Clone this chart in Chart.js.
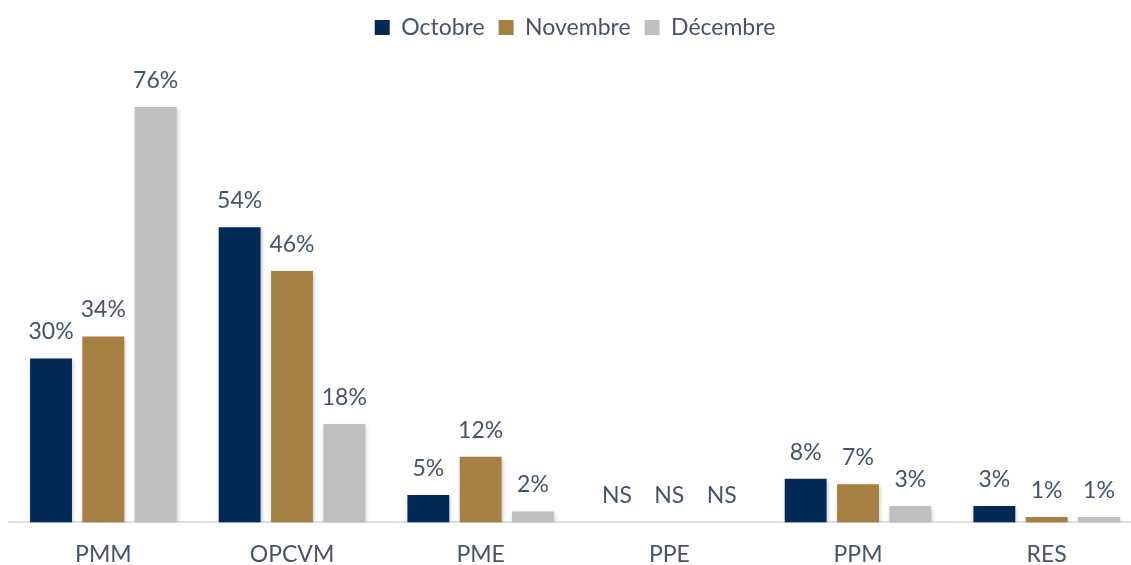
<!DOCTYPE html>
<html>
<head>
<meta charset="utf-8">
<script src="https://cdn.jsdelivr.net/npm/chart.js@4"></script>
<style>
  html, body { margin: 0; padding: 0; background: #fff; overflow: hidden; }
  #wrap { width: 1141px; height: 578px; position: relative; }
</style>
</head>
<body>
<div id="wrap"><canvas id="chart"></canvas></div>
<script>
const categories = ['PMM', 'OPCVM', 'PME', 'PPE', 'PPM', 'RES'];
const octobre = [30, 54, 5, null, 8, 3];
const novembre = [34, 46, 12, null, 7, 1];
const decembre = [76, 18, 2, null, 3, 1];
const seriesNames = ['Octobre', 'Novembre', 'Décembre'];
const seriesColors = ['#022a54', '#a58042', '#bfbfbf'];

const textColor = '#44546a';
const fontFamily = 'Lato, "Noto Sans", sans-serif';

// draws the value labels above each bar (or NS where there is no value)
const valueLabels = {
  id: 'valueLabels',
  afterDatasetsDraw(chart) {
    const ctx = chart.ctx;
    const yScale = chart.scales.y;
    ctx.save();
    ctx.fillStyle = textColor;
    ctx.font = '23px ' + fontFamily;
    ctx.textAlign = 'center';
    ctx.textBaseline = 'bottom';
    chart.data.datasets.forEach((ds, i) => {
      const meta = chart.getDatasetMeta(i);
      meta.data.forEach((bar, j) => {
        const v = ds.data[j];
        const x = bar.x;
        const y = v == null ? yScale.getPixelForValue(0) : bar.y;
        const txt = v == null ? 'NS' : v + '%';
        ctx.fillText(txt, x, y - 15);
      });
    });
    ctx.restore();
  }
};

// soft shadow behind the bars
const barShadow = {
  id: 'barShadow',
  beforeDatasetsDraw(chart) {
    const ctx = chart.ctx;
    ctx.save();
    ctx.shadowColor = 'rgba(0,0,0,0.22)';
    ctx.shadowBlur = 4;
    ctx.shadowOffsetX = 1;
    ctx.shadowOffsetY = 2;
  },
  afterDatasetsDraw(chart) {
    chart.ctx.restore();
  }
};

const datasets = [octobre, novembre, decembre].map((values, i) => ({
  label: seriesNames[i],
  data: values,
  backgroundColor: seriesColors[i],
  borderWidth: 0,
  categoryPercentage: 0.832,
  barPercentage: 0.8
}));

new Chart(document.getElementById('chart'), {
  type: 'bar',
  data: { labels: categories, datasets: datasets },
  plugins: [barShadow, valueLabels],
  options: {
    responsive: true,
    maintainAspectRatio: false,
    animation: false,
    layout: { padding: { left: 9, right: 0, top: 2, bottom: 0 } },
    plugins: {
      legend: {
        position: 'top',
        labels: {
          color: textColor,
          font: { size: 23, family: fontFamily },
          boxWidth: 15,
          boxHeight: 15,
          padding: 14
        }
      },
      tooltip: { enabled: false }
    },
    scales: {
      x: {
        grid: { display: false },
        border: { display: true, color: '#dde1e6', width: 2 },
        ticks: {
          color: textColor,
          font: { size: 23, family: fontFamily },
          padding: 10
        }
      },
      y: {
        display: false,
        min: 0,
        max: 86.6
      }
    }
  }
});
</script>
</body>
</html>
